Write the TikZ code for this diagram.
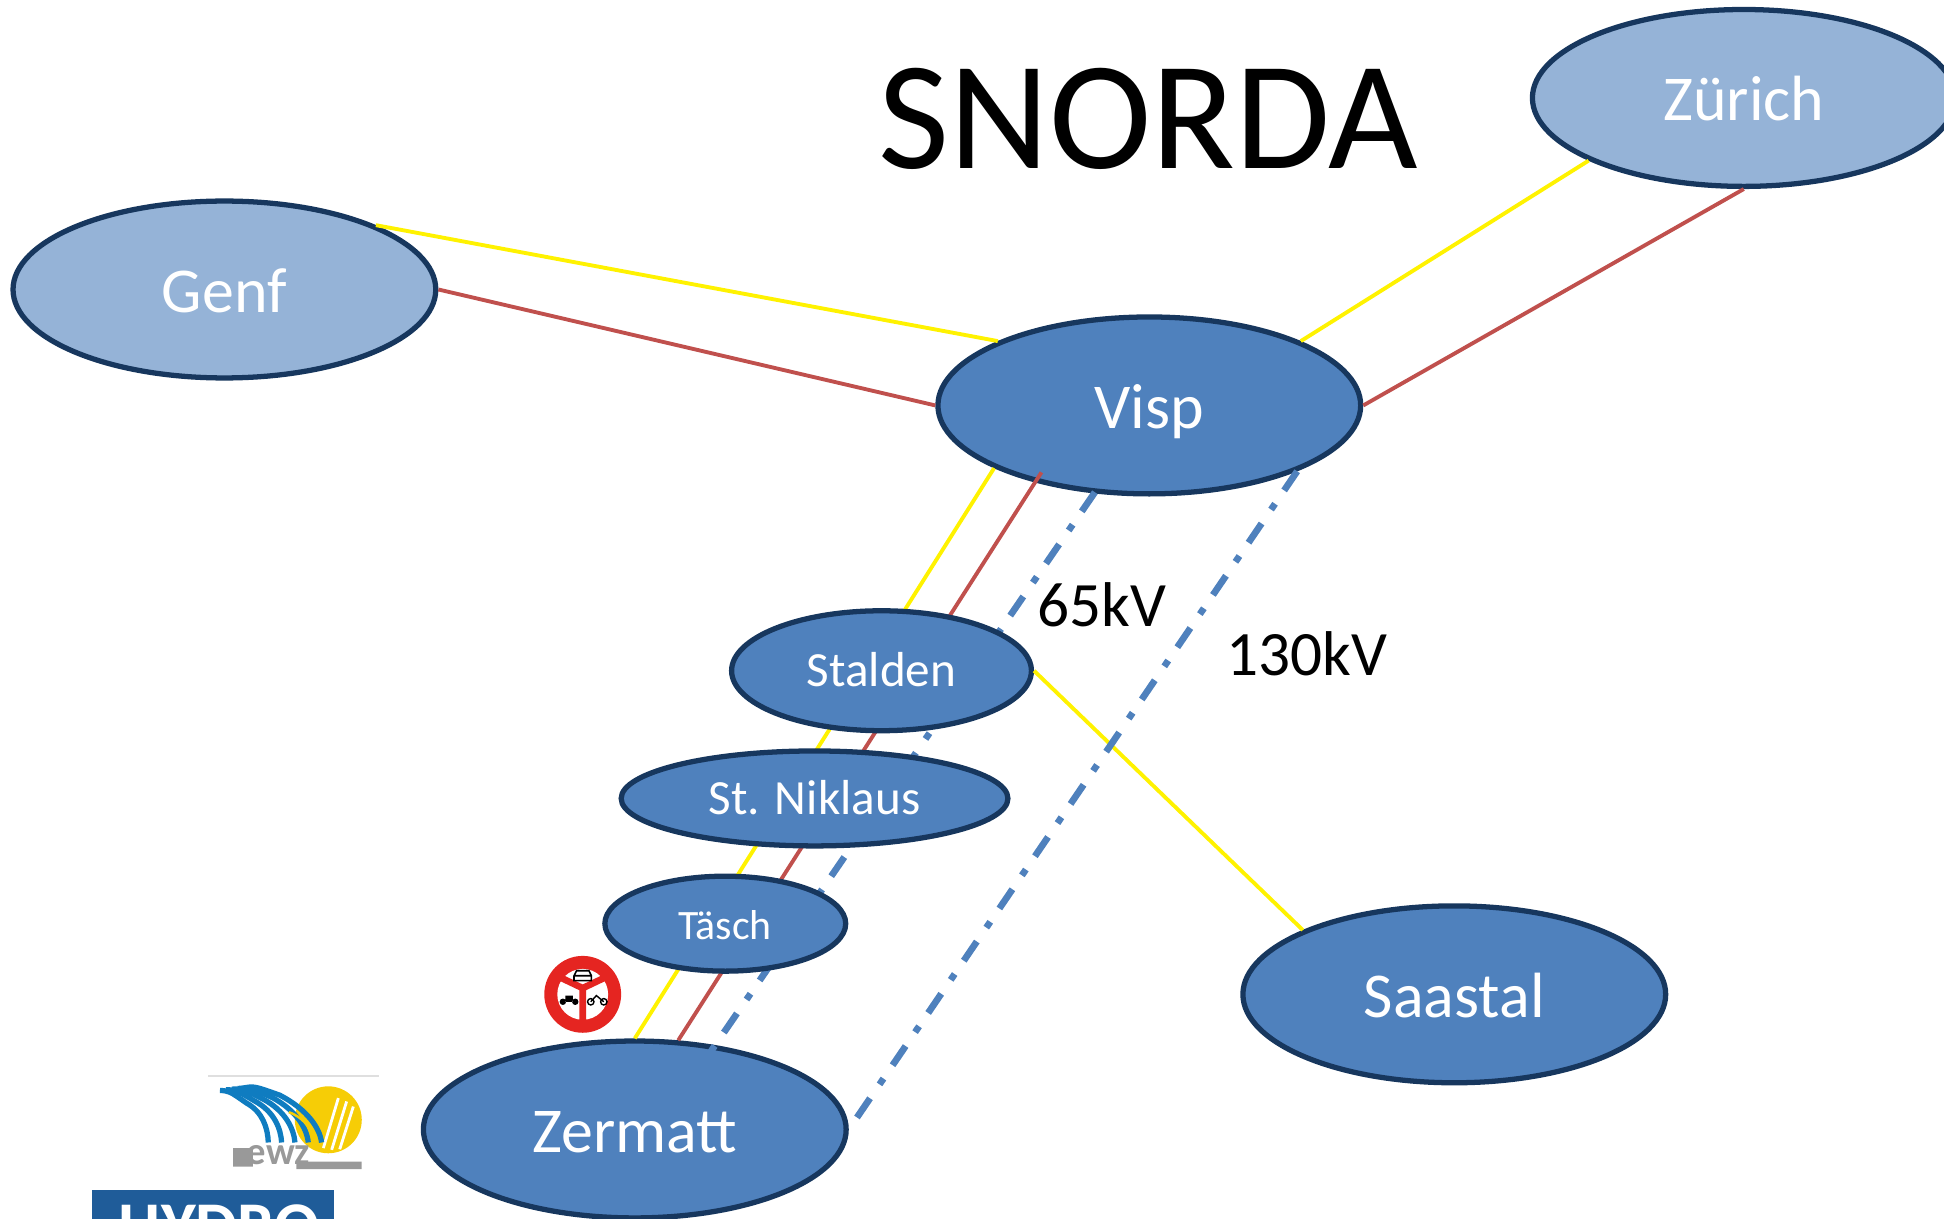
\documentclass[tikz,border=0pt]{standalone}
\usepackage{fontspec}
\setmainfont{Carlito}
\usepackage{tikz}
\usetikzlibrary{shapes.geometric}
\definecolor{cityblue}{HTML}{4F81BD}
\definecolor{citylight}{HTML}{95B3D7}
\definecolor{cityedge}{HTML}{17375E}
\definecolor{linered}{HTML}{C0504D}
\definecolor{hydroblue}{HTML}{1F5C99}
\definecolor{signred}{HTML}{E52521}
\definecolor{ewzblue}{HTML}{0F7CC0}
\definecolor{ewzsun}{HTML}{F6CD06}
\tikzset{
  city/.style={ellipse,draw=cityedge,line width=1.5pt,fill=cityblue,text=white,inner sep=0pt,
    minimum width=4.23cm,minimum height=1.77cm,text height=14pt,text depth=1pt,font=\fontsize{18.2}{22}\selectfont},
  stop/.style={city,text height=10pt,text depth=1pt,font=\fontsize{14}{17}\selectfont},
  citylow/.style={city,fill=citylight},
  yline/.style={yellow,line width=1.1pt},
  rline/.style={linered,line width=1.1pt},
  bline/.style={cityblue,line width=1.9pt,dash pattern=on 6.6pt off 4.6pt on 2pt off 4.8pt},
  volt/.style={font=\fontsize{18}{22}\selectfont,inner sep=0pt}
}
\begin{document}
\begin{tikzpicture}[x=0.0124cm,y=-0.0124cm]
\useasboundingbox (0,0) rectangle (1568,983);
\clip (0,0) rectangle (1568,983);
%%%%% Ends inside the ellipses %%%%%
\coordinate (vispin) at (912,355);
\coordinate (zermattin) at (548,885);
\coordinate (vispred) at (840,381);
%%%%% Cities %%%%%
\node[citylow] (genf) at (181,233.5) {Genf};
\node[citylow] (zurich) at (1406.5,79) {Zürich};
\node[city] (visp) at (927,327) {Visp};
\node[city] (zermatt) at (512,911) {Zermatt};
\node[city] (saastal) at (1173,802) {Saastal};
%%%%% Lines %%%%%
\draw[yline] (genf.23)--(visp.157);
\draw[rline] (genf.east)--(visp.west);
\draw[yline] (zurich.202)--(visp.23);
\draw[rline] (zurich.south)--(visp.east);
\draw[yline] (visp.202)--(zermatt.north);
\draw[rline] (vispred)--(zermatt.64);
\draw[bline] (vispin)--(zermattin);
%%%%% Valley stops %%%%%
\node[stop,minimum width=3cm,minimum height=1.2cm] (stalden) at (711,541) {Stalden};
\node[stop,minimum width=3.87cm,minimum height=0.95cm] (niklaus) at (657,644) {St. Niklaus};
\node[stop,minimum width=2.41cm,minimum height=0.95cm,font=\fontsize{11.9}{14}\selectfont] (tasch) at (585,745) {Täsch};
\draw[yline] (stalden.east)--(saastal.157);
\draw[bline] (visp.336)--(zermatt.east);
%%%%% Labels %%%%%
\node[inner sep=0pt,font=\fontsize{44}{50}\selectfont] (title) at (926,96) {SNORDA};
\node[volt] (kv65) at (889,488) {65kV};
\node[volt] (kv130) at (1054,527) {130kV};
%%%%% Sign %%%%%
\fill[signred] (470,802) circle (31);
\fill[white] (470,802) circle (20.5);
\draw[signred,line width=1.9pt] (470,797)--(470,825) (470,797)--(449,787) (470,797)--(491,787);
\draw[black,line width=0.45pt] (463,787)--(465,783)--(475,783)--(477,787)--(477,791)--(463,791)--cycle (463,787)--(477,787);
\fill[black] (454,808) circle (2.6) (464,808) circle (2.6) (456,803) rectangle (462,808);
\draw[black,line width=0.4pt] (476.5,808) circle (2.6) (487,808) circle (2.6) (476.5,808)--(481,803)--(487,808);
%%%%% ewz %%%%%
\draw[gray!25,line width=0.4pt] (168,868)--(306,868);
\fill[ewzsun] (264.8,903.2) circle (27);
\draw[white,line width=0.8pt] (272.9,885.7)--(260.8,926) (279.6,888.4)--(267.5,927.4) (285,892.5)--(274,927);
\foreach \i in {0,1,2,3,4}{
  \draw[ewzblue,line width=1.5pt] ({177.4+\i*4.8},{879.5-\i*0.5}) .. controls ({185+\i*5},{880-\i*1}) .. ({199+\i*6.7},{889.8-\i*1.6})
    .. controls ({212+\i*9},{897-\i*0.5}) and ({216+\i*10.5},910) .. ({216.4+\i*10.75},921.5);
}
\draw[ewzsun,line width=0.7pt] (233,897) .. controls (248,903) and (251,912) .. (253,921.5);
\fill[gray!80] (188,926) rectangle (204,941) (239,937) rectangle (291.7,943);
\node[text=gray!80,font=\bfseries\fontsize{11}{12}\selectfont,inner sep=0pt] (ewz) at (224.5,932) {ewz};
%%%%% Hydro %%%%%
\fill[hydroblue] (74.5,959.7) rectangle (269.4,1000);
\node[text=white,font=\bfseries\fontsize{19}{22}\selectfont,inner sep=0pt,anchor=base] (hydro) at (177,1006.6) {HYDRO};
\end{tikzpicture}
\end{document}
